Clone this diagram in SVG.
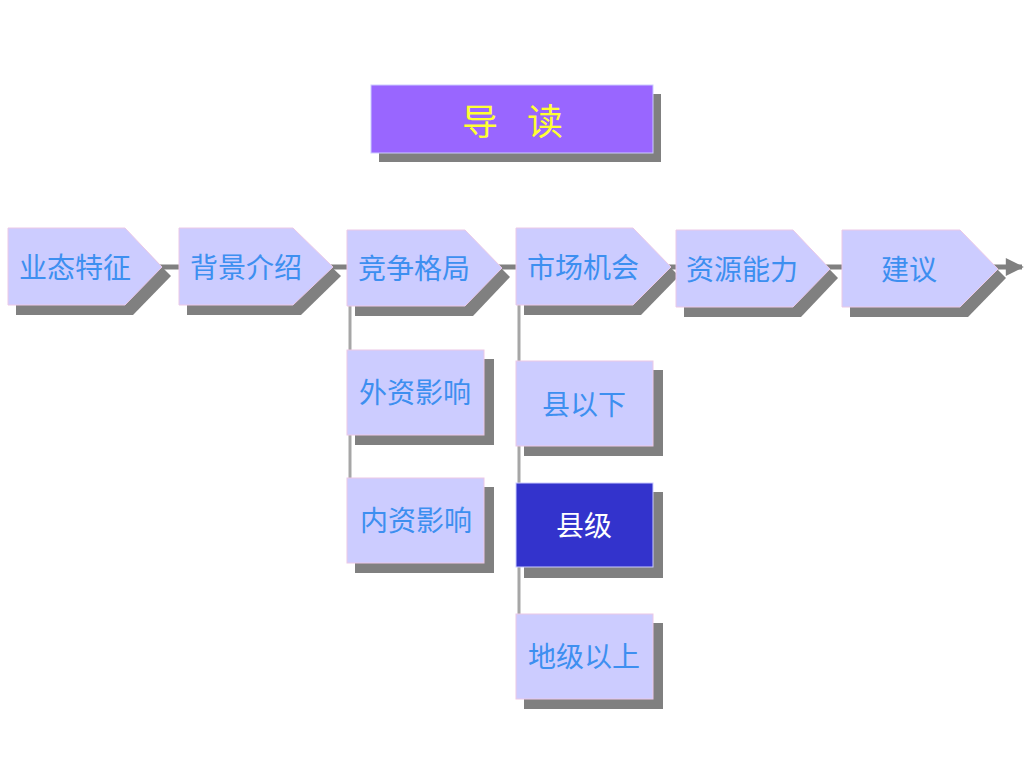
<svg xmlns="http://www.w3.org/2000/svg" width="1024" height="768" viewBox="0 0 1024 768">
<defs>
<style>
.sh{fill:#808080;}
.nd{fill:#CCCCFF;stroke:#EBC8E6;stroke-width:1;}
.sel{fill:#3333CC;stroke:#CCCCFF;stroke-width:1;}
.t{font-family:"Noto Sans CJK SC","Noto Sans",sans-serif;font-size:28px;fill:#3D8FF0;text-anchor:middle;dominant-baseline:central;}
.tw{fill:#FFFFFF;}
.tt{font-family:"Noto Sans CJK SC","Noto Sans",sans-serif;font-size:36px;fill:#FFFF33;text-anchor:middle;dominant-baseline:central;}
.vl{stroke:#A6A6A6;stroke-width:3;fill:none;}
</style>
<marker id="ah" viewBox="0 0 10 10" refX="9" refY="5" markerWidth="4" markerHeight="3.6" orient="auto" markerUnits="strokeWidth">
<path d="M0,0 L10,5 L0,10 Z" fill="#808080"/>
</marker>
</defs>
<rect width="1024" height="768" fill="#FFFFFF"/>

<g id="connectors">
<line x1="150" y1="267" x2="1022" y2="267" stroke="#808080" stroke-width="5" marker-end="url(#ah)"/>
<line class="vl" x1="350" y1="305" x2="350" y2="478"/>
<line class="vl" x1="519" y1="305" x2="519" y2="614"/>
</g>

<g id="title">
<rect class="sh" x="379" y="94" width="282" height="68"/>
<rect x="371" y="85" width="282" height="68" fill="#9966FF" stroke="#CCCCFF" stroke-width="1"/>
<text class="tt" x="480" y="119">导</text>
<text class="tt" x="545" y="119">读</text>
</g>

<g id="n1">
<path class="sh" d="M16,238 H133 L171,276 L133,315 H16 Z"/>
<path class="nd" d="M8,228 H125 L162,267 L125,305 H8 Z"/>
<text class="t" x="75" y="266">业态特征</text>
</g>
<g id="n2">
<path class="sh" d="M187,238 H301 L341,276 L301,315 H187 Z"/>
<path class="nd" d="M179,228 H293 L333,267 L293,305 H179 Z"/>
<text class="t" x="246" y="266">背景介绍</text>
</g>
<g id="n3">
<path class="sh" d="M355,240 H473 L510,277 L473,316 H355 Z"/>
<path class="nd" d="M347,230 H465 L502,268 L465,306 H347 Z"/>
<text class="t" x="414" y="267">竞争格局</text>
</g>
<g id="n4">
<path class="sh" d="M524,238 H641 L679,276 L641,315 H524 Z"/>
<path class="nd" d="M516,228 H633 L671,267 L633,305 H516 Z"/>
<text class="t" x="583" y="266">市场机会</text>
</g>
<g id="n5">
<path class="sh" d="M684,240 H801 L838,278 L801,317 H684 Z"/>
<path class="nd" d="M676,230 H793 L830,269 L793,307 H676 Z"/>
<text class="t" x="742" y="268">资源能力</text>
</g>
<g id="n6">
<path class="sh" d="M850,240 H968 L1006,278 L968,317 H850 Z"/>
<path class="nd" d="M842,230 H960 L998,269 L960,307 H842 Z"/>
<text class="t" x="909" y="268">建议</text>
</g>

<g id="s1">
<rect class="sh" x="355" y="359" width="139" height="86"/>
<rect class="nd" x="347" y="350" width="137" height="85"/>
<text class="t" x="415" y="391">外资影响</text>
</g>
<g id="s2">
<rect class="sh" x="355" y="487" width="139" height="86"/>
<rect class="nd" x="347" y="478" width="137" height="85"/>
<text class="t" x="416" y="519">内资影响</text>
</g>
<g id="s3">
<rect class="sh" x="524" y="370" width="139" height="86"/>
<rect class="nd" x="516" y="361" width="137" height="85"/>
<text class="t" x="584" y="403">县以下</text>
</g>
<g id="s4">
<rect class="sh" x="524" y="492" width="139" height="86"/>
<rect class="sel" x="516" y="483" width="137" height="84"/>
<text class="t tw" x="584" y="524">县级</text>
</g>
<g id="s5">
<rect class="sh" x="524" y="623" width="139" height="86"/>
<rect class="nd" x="516" y="614" width="137" height="85"/>
<text class="t" x="584" y="655">地级以上</text>
</g>
</svg>
